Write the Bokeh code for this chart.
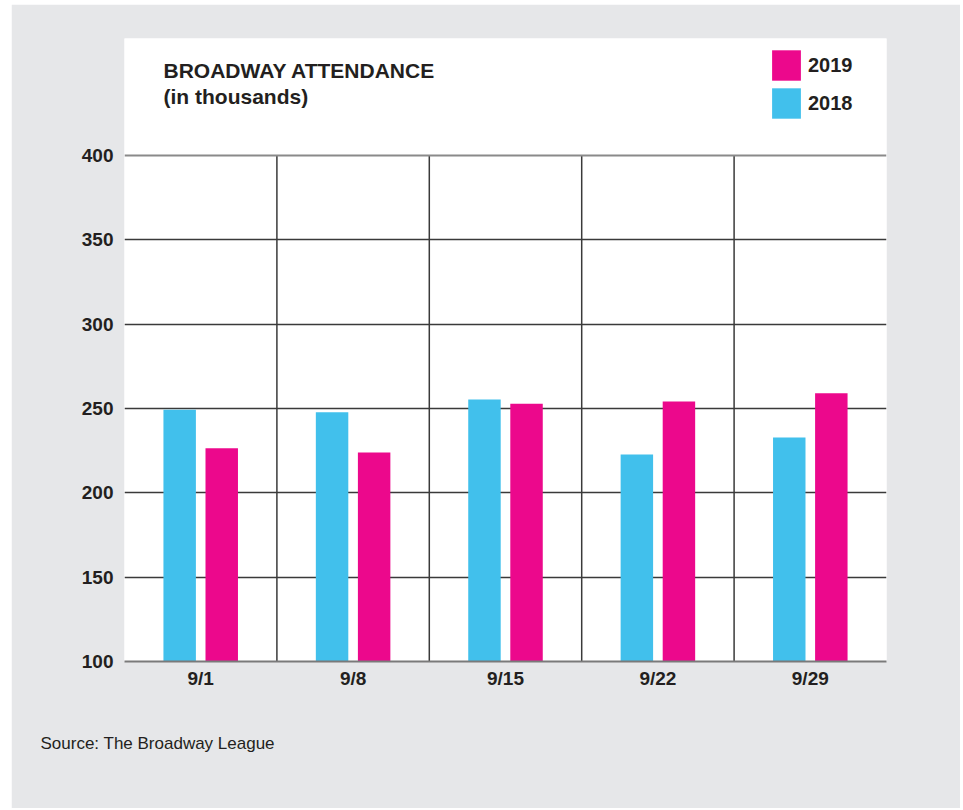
from bokeh.plotting import figure
from bokeh.models import (Range1d, FixedTicker, Label, Span, Legend, LegendItem, ColumnDataSource, Title)
from bokeh.embed import file_html
from bokeh.resources import INLINE

weeks = ["9/1", "9/8", "9/15", "9/22", "9/29"]
att_2018 = [249.2, 247.8, 255.3, 222.7, 232.8]
att_2019 = [226.5, 223.9, 252.8, 254.1, 259.1]
y_ticks = [100, 150, 200, 250, 300, 350, 400]

BLUE = "#41c0ec"
PINK = "#ec088c"
TEXT = "#231f20"
BG = "#e6e7e9"
FONT = "Liberation Sans"

n = len(weeks)
centers = [i + 0.5 for i in range(n)]
x18 = [c - 0.138 for c in centers]
x19 = [c + 0.138 for c in centers]
bar_w = 0.213

p = figure(width=949, height=804, output_backend="svg", toolbar_location=None,
           x_range=Range1d(0, n), y_range=Range1d(100, 469.4),
           min_border_left=113, min_border_right=74, min_border_top=34, min_border_bottom=147,
           margin=(4, 0, 0, 11))
p.border_fill_color = BG
p.background_fill_color = "white"
p.outline_line_color = None

src18 = ColumnDataSource(dict(x=x18, top=att_2018))
src19 = ColumnDataSource(dict(x=x19, top=att_2019))
r18 = p.vbar(x="x", top="top", bottom=100, width=bar_w, source=src18, fill_color=BLUE, line_color=None)
r19 = p.vbar(x="x", top="top", bottom=100, width=bar_w, source=src19, fill_color=PINK, line_color=None)

# vertical separators between weeks (only within 100..400)
bounds = list(range(1, n))
p.segment(x0=bounds, x1=bounds, y0=[100] * len(bounds), y1=[400] * len(bounds),
          line_color="#3a3a3a", line_width=1.5, level="underlay")

# grids
p.xgrid.visible = False
p.ygrid.ticker = FixedTicker(ticks=y_ticks[1:-1])
p.ygrid.grid_line_color = "#3a3a3a"
p.ygrid.grid_line_width = 1.5
p.ygrid.level = "underlay"
p.add_layout(Span(location=400, dimension="width", line_color="#8a8a8a", line_width=2))

# axes
p.yaxis.ticker = FixedTicker(ticks=y_ticks)
p.yaxis.axis_line_color = None
p.yaxis.major_tick_line_color = None
p.yaxis.minor_tick_line_color = None
p.yaxis.major_label_text_font = FONT
p.yaxis.major_label_text_font_style = "bold"
p.yaxis.major_label_text_font_size = "19px"
p.yaxis.major_label_text_color = TEXT
p.yaxis.major_label_standoff = 5

p.xaxis.ticker = FixedTicker(ticks=centers)
p.xaxis.major_label_overrides = {c: w for c, w in zip(centers, weeks)}
p.xaxis.axis_line_color = "#7a7a7a"
p.xaxis.axis_line_width = 2
p.xaxis.major_tick_line_color = None
p.xaxis.minor_tick_line_color = None
p.xaxis.major_label_text_font = FONT
p.xaxis.major_label_text_font_style = "bold"
p.xaxis.major_label_text_font_size = "19px"
p.xaxis.major_label_text_color = TEXT
p.xaxis.major_label_standoff = 0

# title lines
p.add_layout(Label(x=0.256, y=450.7, text="BROADWAY ATTENDANCE", text_font=FONT,
                   text_font_style="bold", text_font_size="21px", text_color=TEXT,
                   text_baseline="alphabetic"))
p.add_layout(Label(x=0.256, y=435.2, text="(in thousands)", text_font=FONT,
                   text_font_style="bold", text_font_size="21px", text_color=TEXT,
                   text_baseline="alphabetic"))
# source
p.add_layout(Title(text="Source: The Broadway League", align="left", offset=-84, standoff=80,
                   text_font=FONT, text_font_style="normal", text_font_size="17px",
                   text_color=TEXT), "below")

legend = Legend(items=[LegendItem(label="2019", renderers=[r19]),
                       LegendItem(label="2018", renderers=[r18])],
                location=(644, 539), glyph_width=36, glyph_height=38, label_standoff=4,
                spacing=-2, padding=0, margin=0, border_line_color=None,
                background_fill_alpha=0, label_text_font=FONT, label_text_font_style="bold",
                label_text_font_size="20px", label_text_color=TEXT)
p.add_layout(legend)

open("out.html", "w").write(file_html(p, INLINE))
